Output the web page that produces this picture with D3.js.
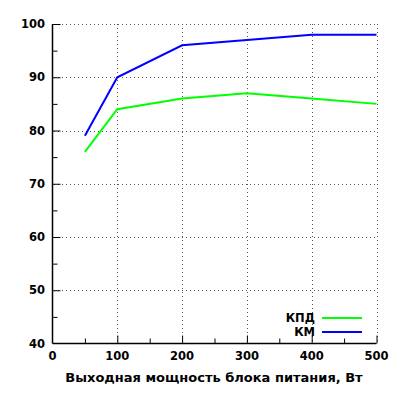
<!DOCTYPE html>
<html>
<head>
<meta charset="utf-8">
<script src="https://cdn.jsdelivr.net/npm/d3@7"></script>
<style>
  body { margin: 0; background: #fff; }
  text { font-family: "DejaVu Sans", sans-serif; font-weight: bold; font-size: 11.5px; fill: #000; }
</style>
</head>
<body>
<script>
// power output, W
var power = [50, 100, 200, 300, 400, 500];
// efficiency, %
var kpd = [76, 84, 86, 87, 86, 85];
// power factor, %
var km = [79, 90, 96, 97, 98, 98];
var seriesNames = ["КПД", "КМ"];
var seriesColors = ["#00ff00", "#0000ff"];
var xTicks = [0, 100, 200, 300, 400, 500];
var yTicks = [40, 50, 60, 70, 80, 90, 100];

var svg = d3.select("body").append("svg")
    .attr("width", 400)
    .attr("height", 400);

var x = d3.scaleLinear().domain([0, 500]).range([52.5, 376.5]);
var y = d3.scaleLinear().domain([40, 100]).range([343.5, 24]);

// dotted grid
var grid = svg.append("g")
    .attr("stroke", "#555")
    .attr("stroke-width", 1)
    .attr("stroke-dasharray", "1,3");
grid.selectAll(".gx")
    .data(xTicks.slice(1))
    .enter().append("line")
    .attr("x1", function (d) { return Math.round(x(d)) + 0.5; })
    .attr("x2", function (d) { return Math.round(x(d)) + 0.5; })
    .attr("y1", Math.round(y(100)))
    .attr("y2", Math.round(y(40)));
grid.selectAll(".gy")
    .data(yTicks.slice(1))
    .enter().append("line")
    .attr("x1", Math.round(x(0)) + 1)
    .attr("x2", Math.round(x(500)))
    .attr("y1", function (d) { return Math.round(y(d)) + 0.5; })
    .attr("y2", function (d) { return Math.round(y(d)) + 0.5; });

// axes, gnuplot style: ticks inward with minor ticks
var xAxis = svg.append("g")
    .attr("transform", "translate(0," + y(40) + ")")
    .call(d3.axisTop(x).tickValues(d3.range(0, 501, 50)).tickSize(6).tickFormat(""));
xAxis.select(".domain").attr("d", "M" + x(0) + ",0H" + x(500));
xAxis.selectAll(".tick line").attr("y2", function (d) { return d % 100 ? -5 : -8; })
    .attr("stroke-width", 1);
xAxis.selectAll(".tick").filter(function (d) { return d === 0; }).remove();

var yAxis = svg.append("g")
    .attr("transform", "translate(" + x(0) + ",0)")
    .call(d3.axisRight(y).tickValues(d3.range(40, 101, 5)).tickFormat(""));
yAxis.select(".domain").attr("d", "M0," + y(40) + "V" + y(100));
yAxis.selectAll(".tick line").attr("x2", function (d) { return d % 10 ? 5 : 8; });
yAxis.selectAll(".tick").filter(function (d) { return d === 40; }).remove();
svg.selectAll(".domain").attr("stroke", "#000").attr("stroke-width", 1.5);

// tick labels
svg.selectAll(".xl")
    .data(xTicks)
    .enter().append("text")
    .attr("x", function (d) { return x(d); })
    .attr("y", 360)
    .attr("text-anchor", "middle")
    .text(function (d) { return d; });
svg.selectAll(".yl")
    .data(yTicks)
    .enter().append("text")
    .attr("x", 45)
    .attr("y", function (d) { return y(d) + 4; })
    .attr("text-anchor", "end")
    .text(function (d) { return d; });

svg.append("text")
    .attr("x", 214)
    .attr("y", 382)
    .attr("text-anchor", "middle")
    .style("font-size", "13px")
    .text("Выходная мощность блока питания, Вт");

// lines
var line = d3.line()
    .x(function (d) { return x(d[0]); })
    .y(function (d) { return y(d[1]); });

[kpd, km].forEach(function (vals, i) {
    svg.append("path")
        .datum(d3.zip(power, vals))
        .attr("fill", "none")
        .attr("stroke", seriesColors[i])
        .attr("stroke-width", 2)
        .attr("d", line);
});

// legend
var legend = svg.selectAll(".legend")
    .data(seriesNames)
    .enter().append("g")
    .attr("transform", function (d, i) { return "translate(0," + (318 + i * 14) + ")"; });
legend.append("text")
    .attr("x", 315)
    .attr("y", 4)
    .attr("text-anchor", "end")
    .text(function (d) { return d; });
legend.append("line")
    .attr("x1", 322)
    .attr("x2", 362)
    .attr("stroke", function (d, i) { return seriesColors[i]; })
    .attr("stroke-width", 2);
</script>
</body>
</html>
